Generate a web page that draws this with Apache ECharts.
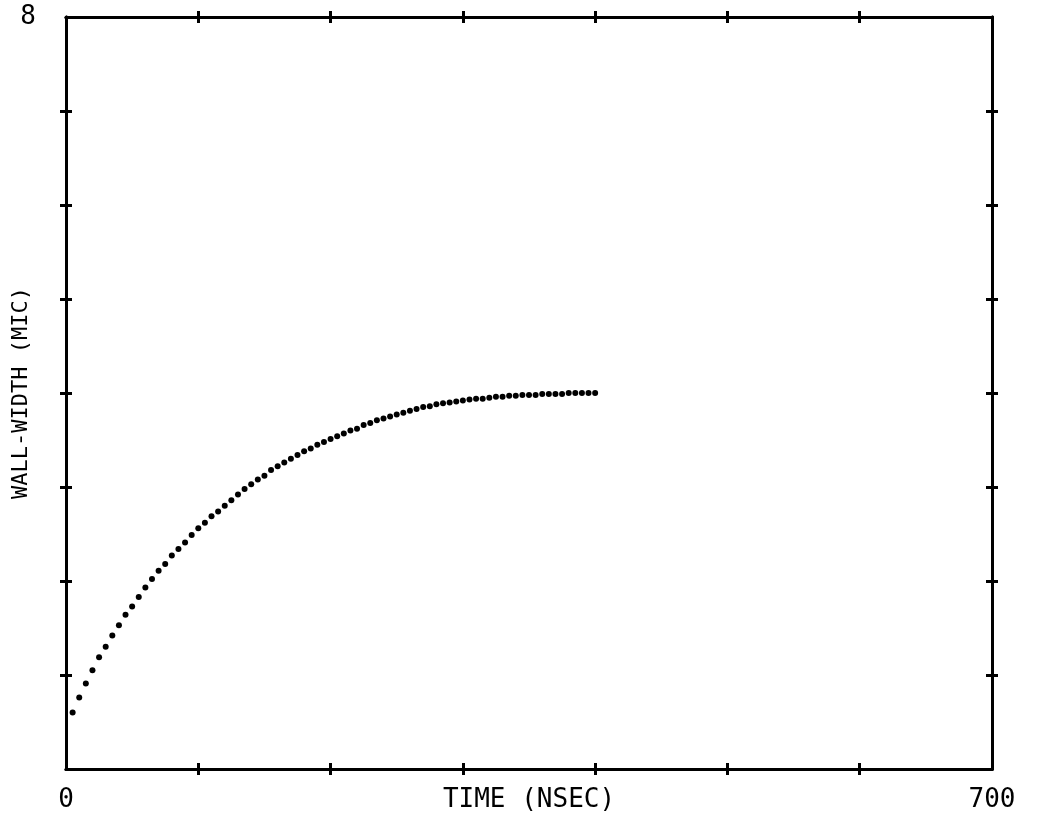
<!DOCTYPE html>
<html>
<head>
<meta charset="utf-8">
<script src="https://cdn.jsdelivr.net/npm/echarts@6/dist/echarts.min.js"></script>
<style>
  html, body { margin: 0; padding: 0; background: #fff; }
  #chart { width: 1039px; height: 829px; }
</style>
</head>
<body>
<div id="chart"></div>
<script>
// ---- data ----
const timeNs = [5, 10, 15, 20, 25, 30, 35, 40, 45, 50, 55, 60, 65, 70, 75, 80, 85, 90, 95, 100,
  105, 110, 115, 120, 125, 130, 135, 140, 145, 150, 155, 160, 165, 170, 175, 180, 185, 190, 195, 200,
  205, 210, 215, 220, 225, 230, 235, 240, 245, 250, 255, 260, 265, 270, 275, 280, 285, 290, 295, 300,
  305, 310, 315, 320, 325, 330, 335, 340, 345, 350, 355, 360, 365, 370, 375, 380, 385, 390, 395, 400];
const wallWidthMic = [0.60, 0.76, 0.91, 1.05, 1.19, 1.30, 1.42, 1.53, 1.64, 1.73, 1.83, 1.93, 2.02, 2.11, 2.18, 2.27, 2.34, 2.41, 2.49, 2.56,
  2.62, 2.69, 2.74, 2.80, 2.86, 2.92, 2.98, 3.03, 3.08, 3.12, 3.18, 3.22, 3.26, 3.30, 3.34, 3.38, 3.41, 3.45, 3.48, 3.51,
  3.54, 3.57, 3.60, 3.62, 3.66, 3.68, 3.71, 3.73, 3.75, 3.77, 3.79, 3.81, 3.83, 3.85, 3.86, 3.88, 3.89, 3.90, 3.91, 3.92,
  3.93, 3.94, 3.94, 3.95, 3.96, 3.96, 3.97, 3.97, 3.98, 3.98, 3.98, 3.99, 3.99, 3.99, 3.99, 4.00, 4.00, 4.00, 4.00, 4.00];
const xTickValues = [100, 200, 300, 400, 500, 600];
const yTickValues = [1, 2, 3, 4, 5, 6, 7];
const xLabelValues = [0, 700];
const yLabelValues = [8];
const xTitle = 'TIME (NSEC)';
const yTitle = 'WALL-WIDTH (MIC)';

const points = timeNs.map((t, i) => [t, wallWidthMic[i]]);

const FONT = '"DejaVu Sans Mono", monospace';
const lineStyle = { color: '#000', width: 3 };

function xAx(position, inside, main) {
  return {
    type: 'value', position: position, min: 0, max: 700, interval: 100,
    axisLine: { show: true, onZero: false, lineStyle: lineStyle },
    axisTick: { show: true, inside: inside, length: 6, customValues: xTickValues, lineStyle: { color: '#000', width: 3 } },
    axisLabel: main ? { show: true, customValues: xLabelValues, margin: 18, color: '#000', fontFamily: FONT, fontSize: 26 } : { show: false },
    splitLine: { show: false },
    name: main ? xTitle : '',
    nameLocation: 'middle', nameGap: 18, nameMoveOverlap: false,
    nameTextStyle: { color: '#000', fontFamily: FONT, fontSize: 26 }
  };
}
function yAx(position, inside, main) {
  return {
    type: 'value', position: position, min: 0, max: 8, interval: 1,
    axisLine: { show: true, onZero: false, lineStyle: lineStyle },
    axisTick: { show: true, inside: inside, length: 6, customValues: yTickValues, lineStyle: { color: '#000', width: 3 } },
    axisLabel: main ? { show: true, customValues: yLabelValues, margin: 30, color: '#000', fontFamily: FONT, fontSize: 26 } : { show: false },
    splitLine: { show: false },
    name: main ? yTitle : '',
    nameLocation: 'middle', nameGap: 34, nameMoveOverlap: false,
    nameTextStyle: { color: '#000', fontFamily: FONT, fontSize: 22 }
  };
}

const chart = echarts.init(document.getElementById('chart'), null, { renderer: 'canvas' });
chart.setOption({
  backgroundColor: '#fff',
  animation: false,
  grid: { left: 66, right: 47, top: 17, bottom: 60, containLabel: false, outerBoundsMode: 'none' },
  xAxis: [xAx('bottom', false, true), xAx('bottom', true, false), xAx('top', false, false), xAx('top', true, false)],
  yAxis: [yAx('left', false, true), yAx('left', true, false), yAx('right', false, false), yAx('right', true, false)],
  series: [{
    type: 'scatter',
    xAxisIndex: 0, yAxisIndex: 0,
    data: points,
    symbol: 'circle', symbolSize: 6,
    itemStyle: { color: '#000', opacity: 1 }
  }]
});
</script>
</body>
</html>
